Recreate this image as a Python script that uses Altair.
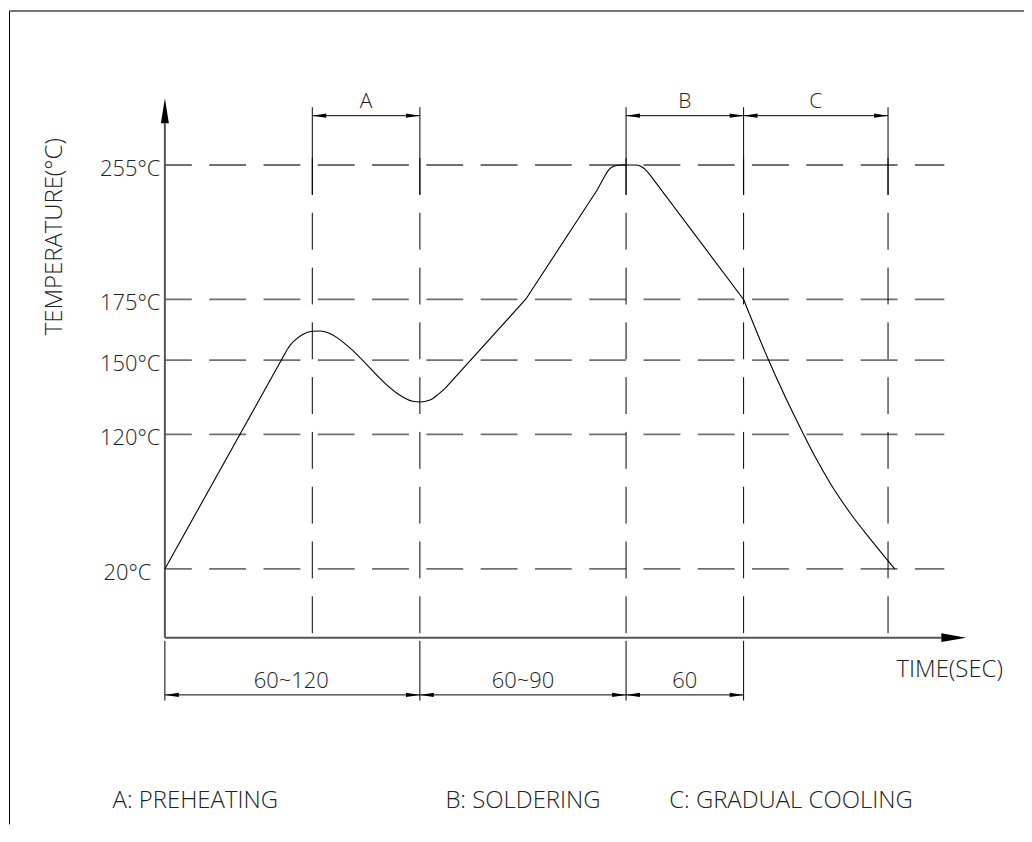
import altair as alt
import pandas as pd

# ---------------- data ----------------
# reflow temperature curve: time (s) and temperature (°C)
curve_time = [0, 58.1, 59.7, 62.1, 65.2, 70.0, 73.8, 77.6, 81.5, 86.9,
              108.5, 112.4, 116.2, 120.1, 124.4, 128.0, 131.0, 166.3, 197.6, 200.5,
              202.7, 204.9, 208.0, 215.0, 217.5, 220.1, 222.6, 270.0, 283.0,
              301.1, 308.0, 314.9, 325.3, 337.4, 348.5]
curve_temp = [20, 154.4, 156.4, 158.5, 160.5, 161.9, 162.0, 161.2, 159.3, 155.5,
              137.2, 135.0, 133.5, 133.1, 133.9, 136.2, 138.6, 175.3, 240.6, 247.9,
              252.5, 254.4, 255, 255, 254.2, 251.9, 248.5, 175, 150,
              120.1, 101.1, 83.9, 61.6, 39.4, 20]
# pieces of the curve (first index, last index, drawn straight or rounded)
curve_pieces = [(0, 1, "straight"), (1, 16, "round"), (16, 18, "straight"),
                (18, 26, "round"), (26, 27, "straight"), (27, 34, "round")]

level_temps = [255, 175, 150, 120, 20]
level_labels = ["255°C", "175°C", "150°C", "120°C", "20°C"]

guide_times = [70, 120, 210, 270, 345]

zone_names = ["A", "B", "C"]
zone_start = [70, 210, 270]
zone_end = [120, 270, 345]

span_labels = ["60~120", "60~90", "60"]
span_start = [0, 120, 210]
span_end = [120, 210, 270]

legend_texts = ["A: PREHEATING", "B: SOLDERING", "C: GRADUAL COOLING"]
y_title = "TEMPERATURE(°C)"
x_title = "TIME(SEC)"

# ---------------- scales / style ----------------
W, H = 1020, 818
X_SCALE = alt.Scale(domain=[0, 70, 120, 210, 270, 345],
                    range=[157.5, 305.5, 413.5, 620.5, 738.5, 883.5], nice=False, zero=False)
Y_SCALE = alt.Scale(domain=[0, 20, 120, 150, 175, 255],
                    range=[630.5, 561.5, 426.5, 352, 291, 156], nice=False, zero=False)
FONT = "Open Sans"
FW = 300
FS = 22
FS_BIG = 24
TC = "#222222"

PATH_L = "M0,0L2,-0.3L2,0.3Z"
PATH_R = "M0,0L-2,-0.3L-2,0.3Z"


def xf(field):
    return alt.X(field, type="quantitative", scale=X_SCALE, axis=None)


def yf(field):
    return alt.Y(field, type="quantitative", scale=Y_SCALE, axis=None)


X0 = alt.X(datum=0, type="quantitative", scale=X_SCALE, axis=None)
Y0 = alt.Y(datum=0, type="quantitative", scale=Y_SCALE, axis=None)

rows = []
for pid, (i0, i1, kind) in enumerate(curve_pieces):
    for i in range(i0, i1 + 1):
        rows.append({"piece": pid, "kind": kind, "time": curve_time[i], "temp": curve_temp[i]})
curve_df = pd.DataFrame(rows)

levels_df = pd.DataFrame({"temp": level_temps, "label": level_labels})
guides_df = pd.DataFrame({"time": guide_times})
zones_df = pd.DataFrame({"name": zone_names, "start": zone_start, "end": zone_end})
spans_df = pd.DataFrame({"name": span_labels, "start": span_start, "end": span_end})
zone_tips = pd.DataFrame({"time": zone_start + zone_end, "dir": ["L"] * 3 + ["R"] * 3})
span_tips = pd.DataFrame({"time": span_start + span_end, "dir": ["L"] * 3 + ["R"] * 3})
span_bounds = pd.DataFrame({"time": span_start + [span_end[-1]]})
one = pd.DataFrame({"k": [0]})

shape_enc = alt.Shape("dir:N", scale=alt.Scale(domain=["L", "R"], range=[PATH_L, PATH_R]), legend=None)

layers = []

# frame
layers.append(alt.Chart(one).mark_rule(color="#777777", strokeWidth=2).encode(
    x=alt.value(1.5), x2=alt.value(W), y=alt.value(1.5)))
layers.append(alt.Chart(one).mark_rule(color="#000000", strokeWidth=1).encode(
    x=alt.value(1.5), y=alt.value(1.5), y2=alt.value(H)))

# horizontal dashed level lines
layers.append(alt.Chart(levels_df).mark_rule(color="#707070", strokeWidth=1.8,
                                             strokeDash=[37, 17.5], strokeDashOffset=10).encode(
    x=X0, x2=alt.value(940), y=yf("temp")))

# vertical dashed guide lines
layers.append(alt.Chart(guides_df).mark_rule(color="black", strokeWidth=1,
                                             strokeDash=[37, 18], strokeDashOffset=50.5).encode(
    x=xf("time"), y=Y0, y2=alt.value(149)))
layers.append(alt.Chart(guides_df).mark_rule(color="black", strokeWidth=1).encode(
    x=xf("time"), y=alt.value(98), y2=alt.value(186)))
# extension lines below the time axis
layers.append(alt.Chart(span_bounds).mark_rule(color="black", strokeWidth=1).encode(
    x=xf("time"), y=alt.value(633.7), y2=alt.value(693.7)))

# axes
layers.append(alt.Chart(one).mark_rule(color="#555555", strokeWidth=2).encode(
    x=X0, y=Y0, y2=alt.value(114)))
layers.append(alt.Chart(one).mark_rule(color="#555555", strokeWidth=2).encode(
    x=X0, x2=alt.value(937), y=Y0))
layers.append(alt.Chart(one).mark_point(shape="M0,0L-0.32,2L0.32,2Z", filled=True, size=625,
                                        opacity=1, color="black").encode(x=X0, y=alt.value(89)))
layers.append(alt.Chart(one).mark_point(shape="M0,0L-2,-0.36L-2,0.36Z", filled=True, size=625,
                                        opacity=1, color="black").encode(x=alt.value(962), y=Y0))

# temperature curve: straight pieces and rounded pieces
layers.append(alt.Chart(curve_df).transform_filter("datum.kind == 'straight'").mark_line(
    color="black", strokeWidth=1.1, interpolate="linear").encode(
    x=xf("time"), y=yf("temp"), detail="piece:N", order="time:Q"))
layers.append(alt.Chart(curve_df).transform_filter("datum.kind == 'round'").mark_line(
    color="black", strokeWidth=1.1, interpolate="monotone").encode(
    x=xf("time"), y=yf("temp"), detail="piece:N", order="time:Q"))

# top zone dimensions
layers.append(alt.Chart(zones_df).mark_rule(color="black", strokeWidth=1).encode(
    x=xf("start"), x2="end:Q", y=alt.value(106.5)))
layers.append(alt.Chart(zone_tips).mark_point(filled=True, size=196, opacity=1, color="black").encode(
    x=xf("time"), y=alt.value(106.5), shape=shape_enc))
layers.append(alt.Chart(zones_df).transform_calculate(mid="(datum.start + datum.end) / 2").mark_text(
    font=FONT, fontWeight=FW, fontSize=21, color=TC, baseline="middle").encode(
    x=xf("mid"), y=alt.value(93), text="name:N"))

# bottom span dimensions
layers.append(alt.Chart(spans_df).mark_rule(color="black", strokeWidth=1).encode(
    x=xf("start"), x2="end:Q", y=alt.value(688)))
layers.append(alt.Chart(span_tips).mark_point(filled=True, size=196, opacity=1, color="black").encode(
    x=xf("time"), y=alt.value(688), shape=shape_enc))
layers.append(alt.Chart(spans_df).transform_calculate(mid="(datum.start + datum.end) / 2").mark_text(
    font=FONT, fontWeight=FW, fontSize=FS, color=TC, baseline="middle").encode(
    x=xf("mid"), y=alt.value(674.5), text="name:N"))

# temperature labels
layers.append(alt.Chart(levels_df).transform_filter("datum.temp > 20").mark_text(
    font=FONT, fontWeight=FW, fontSize=FS, color=TC, align="right", baseline="middle", dy=4).encode(
    x=alt.value(153), y=yf("temp"), text="label:N"))
layers.append(alt.Chart(levels_df).transform_filter("datum.temp <= 20").mark_text(
    font=FONT, fontWeight=FW, fontSize=FS, color=TC, align="right", baseline="middle", dy=4).encode(
    x=alt.value(144), y=yf("temp"), text="label:N"))

# axis titles
layers.append(alt.Chart(one).mark_text(font=FONT, fontWeight=FW, fontSize=FS_BIG, color=TC, angle=270,
                                       align="center", baseline="middle").encode(
    x=alt.value(47), y=alt.value(228), text=alt.value(y_title)))
layers.append(alt.Chart(one).mark_text(font=FONT, fontWeight=FW, fontSize=FS_BIG, color=TC,
                                       align="left", baseline="middle").encode(
    x=alt.value(892), y=alt.value(663), text=alt.value(x_title)))

# legend line
for txt, cx in zip(legend_texts, [188, 517, 786]):
    layers.append(alt.Chart(one).mark_text(font=FONT, fontWeight=FW, fontSize=FS_BIG, color=TC,
                                           align="center", baseline="middle").encode(
        x=alt.value(cx), y=alt.value(795), text=alt.value(txt)))

chart = alt.layer(*layers).properties(
    width=W, height=H, padding=0,
    autosize=alt.AutoSizeParams(type="none"),
).configure_view(stroke=None).configure_axis(disable=True)

chart.save("out.html", embed_options={"renderer": "svg", "actions": False})
